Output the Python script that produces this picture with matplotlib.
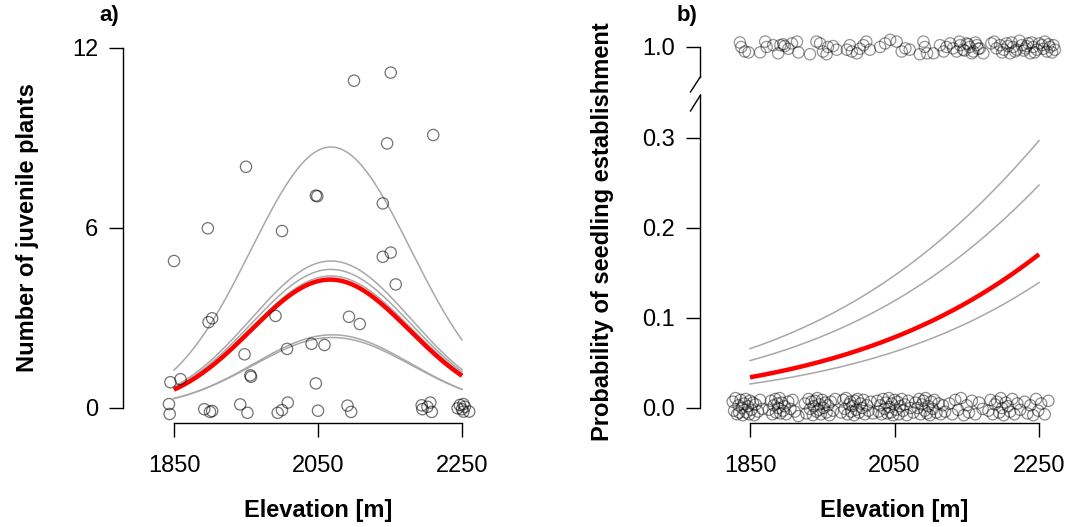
import numpy as np
import matplotlib
matplotlib.use("Agg")
import matplotlib.pyplot as plt
from matplotlib.lines import Line2D

plt.rcParams['font.family'] = ['Liberation Sans', 'DejaVu Sans']

# ---------------- data: panel a ----------------
a_elev = [2100, 2151, 2210, 2146, 1950, 2047, 2049, 2140, 1897, 2000, 1850, 2158,
          2140, 2151, 1898, 1903, 1991, 2093, 2108, 1948, 2007, 2041, 2059, 1956,
          1957, 1845, 1859, 2047, 1843, 1844, 1892, 1900, 1903, 1942, 1952, 1994,
          2000, 2008, 2050, 2091, 2096, 2194, 2206, 2208, 2195, 2202, 2247, 2252,
          2250, 2254, 2260, 2244, 2252]
a_count = [11, 11, 9, 9, 8, 7, 7, 7, 6, 6, 5, 4,
           5, 5, 3, 3, 3, 3, 3, 2, 2, 2, 2, 1,
           1, 1, 1, 1, 0, 0, 0, 0, 0, 0, 0, 0,
           0, 0, 0, 0, 0, 0, 0, 0, 0, 0, 0, 0,
           0, 0, 0, 0, 0]
a_jitter = [-0.09, 0.18, 0.10, -0.18, 0.04, 0.08, 0.06, -0.18, -0.01, -0.10, -0.10, 0.12,
            0.04, 0.18, -0.14, -0.01, 0.07, 0.04, -0.20, -0.21, -0.03, 0.14, 0.10, 0.09,
            0.04, -0.14, -0.04, -0.18, 0.13, -0.20, -0.04, -0.13, -0.10, 0.12, -0.16, -0.16,
            -0.07, 0.18, -0.09, 0.08, -0.13, 0.09, 0.18, -0.13, -0.04, 0.04, 0.10, 0.13,
            -0.04, 0.04, -0.12, -0.01, -0.12]

# fitted curves (peak height, peak elevation, width) -- gray = alternative models
a_gray_peak = [8.70, 4.90, 4.62, 4.40, 2.44, 2.35]
a_gray_center = [2068, 2068, 2068, 2068, 2070, 2070]
a_gray_width = [111, 111, 111, 111, 109, 110]
a_red = (4.28, 2067, 110)

# ---------------- data: panel b ----------------
b_top_elev = [1836, 1838, 1843, 1848, 1864, 1871, 1873, 1882, 1889, 1892, 1896, 1898,
              1903, 1908, 1915, 1917, 1933, 1942, 1947, 1951, 1956, 1958, 1965, 1970,
              1984, 1988, 1991, 1998, 2002, 2007, 2011, 2016, 2030, 2037, 2044, 2053,
              2060, 2065, 2071, 2085, 2090, 2092, 2095, 2104, 2113, 2118, 2122, 2127,
              2131, 2136, 2141, 2145, 2150, 2154, 2159, 2164, 2168, 2173, 2184, 2191,
              2196, 2201, 2205, 2210, 2214, 2219, 2226, 2231, 2235, 2238, 2242, 2247,
              2254, 2258, 2261, 2265, 2270, 2272,
              2140, 2147, 2152, 2157, 2162, 2166, 2188, 2199, 2207, 2212, 2217, 2223,
              2229, 2233, 2240, 2244, 2250, 2256, 2263, 2268]
b_top_jitter = [0.005, 0.000, -0.005, -0.006, -0.006, 0.006, 0.000, 0.002, -0.007, 0.002, 0.003, 0.001,
                -0.002, 0.004, 0.006, -0.006, -0.008, 0.006, 0.004, -0.005, -0.008, 0.000, 0.001, -0.003,
                -0.003, 0.002, -0.005, -0.007, -0.002, 0.002, 0.006, -0.003, 0.000, 0.004, 0.008, 0.006,
                -0.005, -0.0015, -0.003, -0.008, 0.006, 0.000, -0.007, -0.007, 0.002, -0.005, 0.000, 0.004,
                -0.0015, -0.005, 0.002, -0.003, 0.004, 0.000, -0.005, 0.002, -0.0015, -0.007, 0.004, -0.0015,
                0.002, -0.003, 0.004, -0.007, 0.000, -0.003, 0.002, -0.0015, 0.004, -0.007, 0.000, -0.003,
                0.002, 0.006, -0.005, 0.000, 0.002, -0.003,
                0.006, -0.004, 0.003, -0.007, 0.005, -0.002, 0.006, -0.006, 0.001, 0.005, -0.005, 0.007,
                -0.004, 0.001, 0.005, -0.006, 0.004, -0.002, 0.003, -0.006]

b_bot_elev = [1826, 1828, 1830, 1832, 1834, 1835, 1837, 1839, 1840, 1842, 1844, 1845,
              1847, 1849, 1850, 1852, 1854, 1856, 1858, 1861, 1864, 1867,
              1876, 1879, 1881, 1883, 1885, 1886, 1888, 1889, 1891, 1892, 1894, 1896,
              1898, 1900, 1903, 1906, 1909, 1912, 1917,
              1926, 1928, 1931, 1933, 1935, 1937, 1938, 1940, 1942, 1943, 1945, 1946,
              1948, 1950, 1952, 1954, 1956, 1958, 1960, 1962, 1965, 1968,
              1976, 1979, 1981, 1983, 1985, 1987, 1989, 1990, 1992, 1994, 1995, 1997,
              1999, 2001, 2003, 2005, 2007, 2009, 2012, 2014, 2017, 2020,
              2026, 2028, 2030, 2032, 2034, 2036, 2038, 2040, 2042, 2043, 2045, 2046,
              2048, 2050, 2052, 2054, 2056, 2058, 2060, 2062, 2064, 2067, 2069, 2072,
              2076, 2079, 2082, 2084, 2086, 2088, 2090, 2092, 2093, 2095, 2097, 2099,
              2101, 2103, 2105, 2108, 2111, 2114, 2117, 2120,
              2126, 2130, 2134, 2138, 2142, 2146, 2150, 2153, 2157, 2162, 2167, 2172,
              2180, 2183, 2186, 2189, 2192, 2195, 2197, 2199, 2201, 2204, 2207, 2210,
              2213, 2216, 2220, 2224,
              2230, 2234, 2238, 2242, 2246, 2249, 2253, 2258, 2263]
b_bot_jitter = [0.007, -0.003, 0.011, -0.007, 0.003, -0.005, 0.009, 0.000, -0.008, 0.005, 0.010, -0.005,
                0.002, -0.007, 0.008, -0.002, 0.006, -0.008, 0.004, -0.004, 0.009, -0.001,
                -0.002, 0.008, -0.007, 0.003, 0.010, -0.005, 0.005, 0.000, 0.011, -0.006, 0.006, -0.003,
                0.002, -0.007, 0.007, -0.001, 0.009, -0.004, -0.009,
                0.005, -0.006, 0.010, -0.001, 0.007, -0.008, 0.002, 0.008, -0.004, 0.011, -0.002, 0.004,
                -0.007, 0.009, 0.000, 0.006, -0.005, 0.003, -0.008, 0.007, -0.003, 0.010,
                -0.005, 0.009, -0.001, 0.011, -0.007, 0.004, 0.007, -0.004, 0.002, -0.008, 0.008, -0.002,
                0.010, -0.005, 0.005, 0.000, 0.009, -0.007, 0.003, -0.003, 0.007, -0.006,
                0.008, -0.004, 0.003, -0.007, 0.010, -0.001, 0.006, -0.006, 0.011, 0.001, -0.005, 0.005,
                -0.008, 0.009, -0.002, 0.007, -0.007, 0.002, 0.010, -0.003, 0.004, -0.008, 0.008, 0.000,
                -0.005, 0.006, 0.000, 0.010, -0.007, 0.004, 0.008, -0.003, 0.011, -0.006, 0.002, -0.008,
                0.007, -0.001, 0.009, -0.005, 0.005, -0.007, 0.003, -0.004,
                0.005, -0.007, 0.009, -0.002, 0.011, -0.008, 0.003, -0.005, 0.008, -0.007, 0.006, -0.001,
                -0.003, 0.009, -0.007, 0.004, 0.007, -0.005, 0.011, 0.000, -0.008, 0.006, 0.002, -0.004,
                0.010, -0.007, 0.005, -0.002,
                0.007, -0.006, 0.003, -0.008, 0.010, -0.003, 0.005, -0.007, 0.008]

# logistic curves: logit at 1850 m and slope per 100 m
b_gray_intercept = [-2.652, -2.891, -3.596]
b_gray_slope = [0.4476, 0.445, 0.444]
b_red = (-3.344, 0.441)

x_ticks = [1850, 2050, 2250]
a_yticks = [0, 6, 12]
b_yticks_low = [0.0, 0.1, 0.2, 0.3]
b_yticks_high = [1.0]

# ---------------- layout ----------------
W, H = 1068, 527
fig = plt.figure(figsize=(W / 100, H / 100), dpi=100)
FS = 17


def px_axes(l, t, r, b):
    return fig.add_axes([l / W, 1 - b / H, (r - l) / W, (b - t) / H])


def style(ax, left_bounds, bottom_bounds=None):
    for s in ['top', 'right']:
        ax.spines[s].set_visible(False)
    ax.spines['left'].set_bounds(*left_bounds)
    ax.spines['left'].set_linewidth(1.0)
    if bottom_bounds is None:
        ax.spines['bottom'].set_visible(False)
        ax.tick_params(axis='x', bottom=False, labelbottom=False)
    else:
        ax.spines['bottom'].set_bounds(*bottom_bounds)
        ax.spines['bottom'].set_linewidth(1.0)
    ax.tick_params(axis='both', direction='out', length=10, width=1.0,
                   labelsize=FS, colors='black')
    ax.tick_params(axis='y', pad=8)
    ax.tick_params(axis='x', pad=13)
    ax.patch.set_alpha(0)


xs = np.linspace(1850, 2250, 300)

# ---------------- panel a ----------------
axa = px_axes(123, 30, 478, 423)
sx = 288 / 400
axa.set_xlim(1850 - (174 - 123) / sx, 2250 + (478 - 462) / sx)
axa.set_ylim(-(423 - 408) / 30, 12 + (48 - 30) / 30)
style(axa, (0, 12), (1850, 2250))
axa.set_xticks(x_ticks)
axa.set_yticks(a_yticks)
axa.set_yticklabels([str(v) for v in a_yticks])

for p, c, w in zip(a_gray_peak, a_gray_center, a_gray_width):
    axa.plot(xs, p * np.exp(-(xs - c) ** 2 / (2 * w ** 2)), color='#a8a8a8', lw=1.1)
p, c, w = a_red
axa.plot(xs, p * np.exp(-(xs - c) ** 2 / (2 * w ** 2)), color='#ff0000', lw=3.2,
         solid_capstyle='butt')
ya = np.array(a_count) + np.array(a_jitter)
axa.scatter(a_elev, ya, s=66, facecolors='none', edgecolors=(0, 0, 0, 0.55),
            linewidths=0.9, clip_on=False, zorder=3)

# ---------------- panel b ----------------
sxb = 289 / 400
bxlim = (1850 - (750 - 700) / sxb, 2250 + (1062 - 1039) / sxb)

axb = px_axes(700, 95, 1062, 423)
axb.set_xlim(*bxlim)
axb.set_ylim(-(423 - 408) / 900, (408 - 95) / 900)
style(axb, (0, (408 - 95) / 900), (1850, 2250))
axb.set_xticks(x_ticks)
axb.set_yticks(b_yticks_low)
axb.set_yticklabels([f"{v:.1f}" for v in b_yticks_low])

axt = px_axes(700, 22, 1062, 77)
axt.set_xlim(*bxlim)
axt.set_ylim(1 - (77 - 47) / 900, 1 + (47 - 22) / 900)
style(axt, (1 - (77 - 47) / 900, 1.0))
axt.set_yticks(b_yticks_high)
axt.set_yticklabels([f"{v:.1f}" for v in b_yticks_high])

for a0, b0 in zip(b_gray_intercept, b_gray_slope):
    eta = a0 + b0 * (xs - 1850) / 100
    axb.plot(xs, 1 / (1 + np.exp(-eta)), color='#a8a8a8', lw=1.1)
eta = b_red[0] + b_red[1] * (xs - 1850) / 100
axb.plot(xs, 1 / (1 + np.exp(-eta)), color='#ff0000', lw=3.2, solid_capstyle='butt')

axb.scatter(b_bot_elev, np.zeros(len(b_bot_elev)) + np.array(b_bot_jitter), s=66,
            facecolors='none', edgecolors=(0, 0, 0, 0.45), linewidths=0.9,
            clip_on=False, zorder=3)
axt.scatter(b_top_elev, np.ones(len(b_top_elev)) + np.array(b_top_jitter), s=66,
            facecolors='none', edgecolors=(0, 0, 0, 0.42), linewidths=0.9,
            clip_on=False, zorder=3)

# axis-break slashes
for (x0, y0, x1, y1) in [(690.5, 92, 700.5, 76.5), (690.5, 111, 700.5, 95)]:
    fig.add_artist(Line2D([x0 / W, x1 / W], [1 - y0 / H, 1 - y1 / H], color='black', lw=1.0))

# ---------------- text ----------------
def ftext(x, y, s, **kw):
    fig.text(x / W, 1 - y / H, s, **kw)

ftext(28, 228, "Number of juvenile plants", rotation=90, ha='center', va='center',
      fontsize=FS, fontweight='bold')
ftext(603, 232, "Probability of seedling establishment", rotation=90, ha='center',
      va='center', fontsize=FS, fontweight='bold')
ftext(318, 510, "Elevation [m]", ha='center', va='center', fontsize=FS, fontweight='bold')
ftext(894, 510, "Elevation [m]", ha='center', va='center', fontsize=FS, fontweight='bold')
ftext(109, 16, "a)", ha='center', va='center', fontsize=16, fontweight='bold')
ftext(687, 16, "b)", ha='center', va='center', fontsize=16, fontweight='bold')

fig.savefig("out.png", dpi=100)
